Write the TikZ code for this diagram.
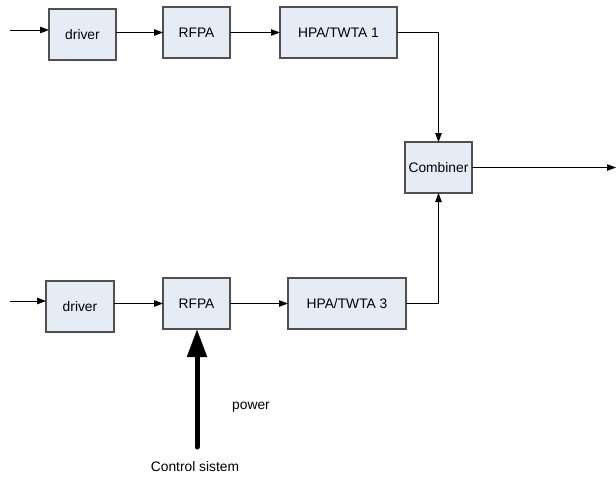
\documentclass[tikz,border=0pt]{standalone}
\usepackage{fontspec}
\setmainfont{Liberation Sans}
\usetikzlibrary{arrows.meta}
\definecolor{boxfill}{RGB}{230,236,246}
\definecolor{boxdraw}{RGB}{80,80,80}
\begin{document}
\begin{tikzpicture}[x=1pt,y=-1pt,
  blk/.style={draw=boxdraw,fill=boxfill,line width=1.2pt,minimum height=51pt,inner sep=0pt,outer sep=0pt,font=\fontsize{13.8}{16}\selectfont},
  conn/.style={line width=0.9pt,-{Triangle[length=9pt,width=6.5pt]}},
  lbl/.style={font=\fontsize{13.8}{16}\selectfont,inner sep=0pt}]
\useasboundingbox (0,0) rectangle (616,477);
\node[blk,minimum width=67pt] (d1) at (82.5,34.5) {driver};
\node[blk,minimum width=67pt] (r1) at (196.5,32.5) {RFPA};
\node[blk,minimum width=117pt] (h1) at (338.5,32.5) {HPA/TWTA 1};
\node[blk,minimum width=67pt] (c) at (438.5,167.5) {Combiner};
\node[blk,minimum width=68pt] (d2) at (80,306.5) {driver};
\node[blk,minimum width=67pt] (r2) at (196.5,303.5) {RFPA};
\node[blk,minimum width=118pt] (h3) at (347,303.5) {HPA/TWTA 3};
\node[lbl] (pw) at (251,407) {power};
\node[lbl] (ctl) at (195,467) {Control sistem};
\coordinate (in1) at (10,30);
\coordinate (in2) at (10,301);
\coordinate (out) at (616,167.5);
\coordinate (cs) at (197,447);
\draw[conn] (in1) -- (in1 -| d1.west);
\draw[conn] (d1.east |- r1.west) -- (r1.west);
\draw[conn] (r1.east) -- (h1.west);
\draw[conn] (h1.east) -| (c.north);
\draw[conn] (in2) -- (in2 -| d2.west);
\draw[conn] (d2.east |- r2.west) -- (r2.west);
\draw[conn] (r2.east) -- (h3.west);
\draw[conn] (h3.east) -| (c.south);
\draw[conn] (c.east) -- (out);
\draw[line width=5pt,line cap=round,-{Triangle[length=28pt,width=19pt]}] (cs) -- (cs |- r2.south);
\end{tikzpicture}
\end{document}
